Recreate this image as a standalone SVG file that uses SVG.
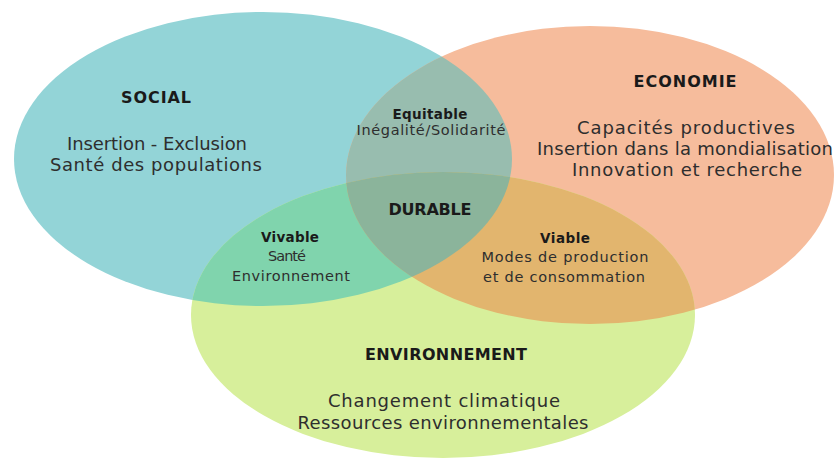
<svg xmlns="http://www.w3.org/2000/svg" width="835" height="461" viewBox="0 0 835 461">
  <style>
    text { font-family: "DejaVu Sans", "Liberation Sans", sans-serif; text-anchor: middle; fill: #2e2e2e; }
    .title { font-weight: bold; font-size: 16px; fill: #1a1a1a; }
    .body { font-size: 18px; }
    .sub { font-weight: bold; font-size: 13.5px; fill: #1a1a1a; }
    .small { font-size: 14.5px; }
  </style>
  <defs>
    <ellipse id="eS" cx="263" cy="159" rx="249" ry="147"/>
    <ellipse id="eE" cx="590" cy="175" rx="244" ry="149"/>
    <ellipse id="eV" cx="443" cy="315" rx="252" ry="143"/>
    <clipPath id="cS"><use href="#eS"/></clipPath>
    <clipPath id="cE"><use href="#eE"/></clipPath>
  </defs>
  <rect width="835" height="461" fill="#ffffff"/>

  <g id="social">
    <use href="#eS" fill="#93d4d7"/>
  </g>
  <g id="economie">
    <use href="#eE" fill="#f6bc9c"/>
  </g>
  <g id="environnement">
    <use href="#eV" fill="#d7ef9b"/>
  </g>
  <g id="equitable">
    <use href="#eE" fill="#98bdaf" clip-path="url(#cS)"/>
  </g>
  <g id="vivable">
    <use href="#eV" fill="#80d4ad" clip-path="url(#cS)"/>
  </g>
  <g id="viable">
    <use href="#eV" fill="#e2b56e" clip-path="url(#cE)"/>
  </g>
  <g id="durable">
    <g clip-path="url(#cS)">
      <use href="#eV" fill="#8bb49b" clip-path="url(#cE)"/>
    </g>
  </g>

  <g id="labels">
    <text class="title" x="156" y="103" textLength="70" lengthAdjust="spacing">SOCIAL</text>
    <text class="body" x="157" y="150" textLength="180" lengthAdjust="spacing">Insertion - Exclusion</text>
    <text class="body" x="156" y="171" textLength="212" lengthAdjust="spacing">Santé des populations</text>

    <text class="sub" x="430" y="119" textLength="75" lengthAdjust="spacing">Equitable</text>
    <text class="small" x="431" y="135" textLength="149" lengthAdjust="spacing">Inégalité/Solidarité</text>

    <text class="title" x="685" y="87" textLength="103" lengthAdjust="spacing">ECONOMIE</text>
    <text class="body" x="686" y="134" textLength="218" lengthAdjust="spacing">Capacités productives</text>
    <text class="body" x="685" y="155" textLength="296" lengthAdjust="spacing">Insertion dans la mondialisation</text>
    <text class="body" x="687" y="176" textLength="230" lengthAdjust="spacing">Innovation et recherche</text>

    <text class="title" x="430" y="215" textLength="83" lengthAdjust="spacing">DURABLE</text>

    <text class="sub" x="290" y="242" textLength="58" lengthAdjust="spacing">Vivable</text>
    <text class="small" x="287" y="261" textLength="38" lengthAdjust="spacing">Santé</text>
    <text class="small" x="291" y="281" textLength="118" lengthAdjust="spacing">Environnement</text>

    <text class="sub" x="565" y="243" textLength="50" lengthAdjust="spacing">Viable</text>
    <text class="small" x="565" y="262" textLength="167" lengthAdjust="spacing">Modes de production</text>
    <text class="small" x="564" y="282" textLength="162" lengthAdjust="spacing">et de consommation</text>

    <text class="title" x="446" y="360" textLength="162" lengthAdjust="spacing">ENVIRONNEMENT</text>
    <text class="body" x="444" y="407" textLength="232" lengthAdjust="spacing">Changement climatique</text>
    <text class="body" x="443" y="429" textLength="291" lengthAdjust="spacing">Ressources environnementales</text>
  </g>
</svg>
